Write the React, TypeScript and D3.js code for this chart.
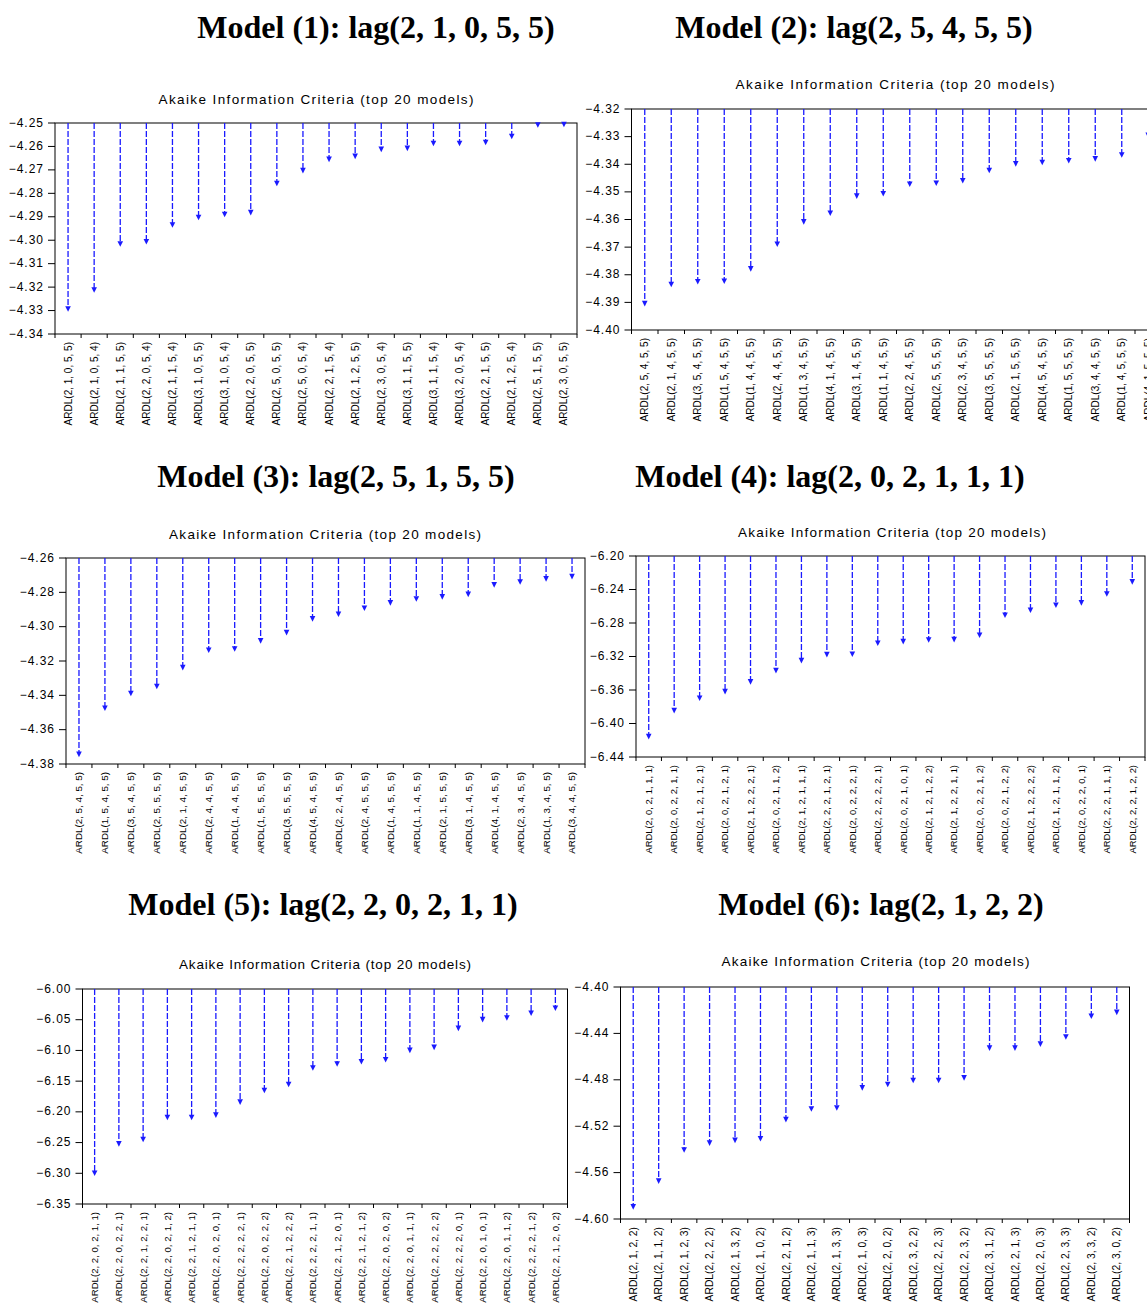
import React from "react";
import * as d3 from "d3";

// ---------------- DATA ----------------
const titles = [
  "Model (1): lag(2, 1, 0, 5, 5)",
  "Model (2): lag(2, 5, 4, 5, 5)",
  "Model (3): lag(2, 5, 1, 5, 5)",
  "Model (4): lag(2, 0, 2, 1, 1, 1)",
  "Model (5): lag(2, 2, 0, 2, 1, 1)",
  "Model (6): lag(2, 1, 2, 2)",
];
const subtitle = "Akaike Information Criteria (top 20 models)";

const labels1 = [
  "ARDL(2, 1, 0, 5, 5)", "ARDL(2, 1, 0, 5, 4)", "ARDL(2, 1, 1, 5, 5)", "ARDL(2, 2, 0, 5, 4)",
  "ARDL(2, 1, 1, 5, 4)", "ARDL(3, 1, 0, 5, 5)", "ARDL(3, 1, 0, 5, 4)", "ARDL(2, 2, 0, 5, 5)",
  "ARDL(2, 5, 0, 5, 5)", "ARDL(2, 5, 0, 5, 4)", "ARDL(2, 2, 1, 5, 4)", "ARDL(2, 1, 2, 5, 5)",
  "ARDL(2, 3, 0, 5, 4)", "ARDL(3, 1, 1, 5, 5)", "ARDL(3, 1, 1, 5, 4)", "ARDL(3, 2, 0, 5, 4)",
  "ARDL(2, 2, 1, 5, 5)", "ARDL(2, 1, 2, 5, 4)", "ARDL(2, 5, 1, 5, 5)", "ARDL(2, 3, 0, 5, 5)",
];
const values1 = [
  -4.3295, -4.3214, -4.3018, -4.3008, -4.2937, -4.2905, -4.2892, -4.2884, -4.276, -4.2705,
  -4.2657, -4.2644, -4.2614, -4.261, -4.2589, -4.2589, -4.2585, -4.2559, -4.251, -4.2508,
];
const yTicks1 = [-4.25, -4.26, -4.27, -4.28, -4.29, -4.3, -4.31, -4.32, -4.33, -4.34];

const labels2 = [
  "ARDL(2, 5, 4, 5, 5)", "ARDL(2, 1, 4, 5, 5)", "ARDL(3, 5, 4, 5, 5)", "ARDL(1, 5, 4, 5, 5)",
  "ARDL(1, 4, 4, 5, 5)", "ARDL(2, 4, 4, 5, 5)", "ARDL(1, 3, 4, 5, 5)", "ARDL(4, 1, 4, 5, 5)",
  "ARDL(3, 1, 4, 5, 5)", "ARDL(1, 1, 4, 5, 5)", "ARDL(2, 2, 4, 5, 5)", "ARDL(2, 5, 5, 5, 5)",
  "ARDL(2, 3, 4, 5, 5)", "ARDL(3, 5, 5, 5, 5)", "ARDL(2, 1, 5, 5, 5)", "ARDL(4, 5, 4, 5, 5)",
  "ARDL(1, 5, 5, 5, 5)", "ARDL(3, 4, 4, 5, 5)", "ARDL(1, 4, 5, 5, 5)", "ARDL(4, 1, 5, 5, 5)",
];
const values2 = [
  -4.3906, -4.3837, -4.3827, -4.3825, -4.378, -4.3691, -4.361, -4.3579, -4.3517, -4.3508,
  -4.3474, -4.347, -4.3461, -4.3424, -4.34, -4.3395, -4.3389, -4.3382, -4.3368, -4.3297,
];
const yTicks2 = [-4.32, -4.33, -4.34, -4.35, -4.36, -4.37, -4.38, -4.39, -4.4];

const labels3 = [
  "ARDL(2, 5, 4, 5, 5)", "ARDL(1, 5, 4, 5, 5)", "ARDL(3, 5, 4, 5, 5)", "ARDL(2, 5, 5, 5, 5)",
  "ARDL(2, 1, 4, 5, 5)", "ARDL(2, 4, 4, 5, 5)", "ARDL(1, 4, 4, 5, 5)", "ARDL(1, 5, 5, 5, 5)",
  "ARDL(3, 5, 5, 5, 5)", "ARDL(4, 5, 4, 5, 5)", "ARDL(2, 2, 4, 5, 5)", "ARDL(2, 4, 5, 5, 5)",
  "ARDL(1, 4, 5, 5, 5)", "ARDL(1, 1, 4, 5, 5)", "ARDL(2, 1, 5, 5, 5)", "ARDL(3, 1, 4, 5, 5)",
  "ARDL(4, 1, 4, 5, 5)", "ARDL(2, 3, 4, 5, 5)", "ARDL(1, 3, 4, 5, 5)", "ARDL(3, 4, 4, 5, 5)",
];
const values3 = [
  -4.3746, -4.3478, -4.3392, -4.3351, -4.3241, -4.314, -4.3132, -4.3085, -4.3037, -4.2957,
  -4.293, -4.2895, -4.2864, -4.2841, -4.2829, -4.2814, -4.2759, -4.2742, -4.2724, -4.2711,
];
const yTicks3 = [-4.26, -4.28, -4.3, -4.32, -4.34, -4.36, -4.38];

const labels4 = [
  "ARDL(2, 0, 2, 1, 1, 1)", "ARDL(2, 0, 2, 2, 1, 1)", "ARDL(2, 1, 2, 1, 2, 1)", "ARDL(2, 0, 2, 1, 2, 1)",
  "ARDL(2, 1, 2, 2, 2, 1)", "ARDL(2, 0, 2, 1, 1, 2)", "ARDL(2, 1, 2, 1, 1, 1)", "ARDL(2, 2, 2, 1, 2, 1)",
  "ARDL(2, 0, 2, 2, 2, 1)", "ARDL(2, 2, 2, 2, 2, 1)", "ARDL(2, 0, 2, 1, 0, 1)", "ARDL(2, 1, 2, 1, 2, 2)",
  "ARDL(2, 1, 2, 2, 1, 1)", "ARDL(2, 0, 2, 2, 1, 2)", "ARDL(2, 0, 2, 1, 2, 2)", "ARDL(2, 1, 2, 2, 2, 2)",
  "ARDL(2, 1, 2, 1, 1, 2)", "ARDL(2, 0, 2, 2, 0, 1)", "ARDL(2, 2, 2, 1, 1, 1)", "ARDL(2, 2, 2, 1, 2, 2)",
];
const values4 = [
  -6.4161, -6.3851, -6.3703, -6.3624, -6.3508, -6.3373, -6.3254, -6.3182, -6.3178, -6.3047,
  -6.3027, -6.3007, -6.3003, -6.2951, -6.2712, -6.2653, -6.2593, -6.2565, -6.2458, -6.2314,
];
const yTicks4 = [-6.2, -6.24, -6.28, -6.32, -6.36, -6.4, -6.44];

const labels5 = [
  "ARDL(2, 2, 0, 2, 1, 1)", "ARDL(2, 2, 0, 2, 2, 1)", "ARDL(2, 2, 1, 2, 2, 1)", "ARDL(2, 2, 0, 2, 1, 2)",
  "ARDL(2, 2, 1, 2, 1, 1)", "ARDL(2, 2, 0, 2, 0, 1)", "ARDL(2, 2, 2, 2, 2, 1)", "ARDL(2, 2, 0, 2, 2, 2)",
  "ARDL(2, 2, 1, 2, 2, 2)", "ARDL(2, 2, 2, 2, 1, 1)", "ARDL(2, 2, 1, 2, 0, 1)", "ARDL(2, 2, 1, 2, 1, 2)",
  "ARDL(2, 2, 0, 2, 0, 2)", "ARDL(2, 2, 0, 1, 1, 1)", "ARDL(2, 2, 2, 2, 2, 2)", "ARDL(2, 2, 2, 2, 0, 1)",
  "ARDL(2, 2, 0, 1, 0, 1)", "ARDL(2, 2, 0, 1, 1, 2)", "ARDL(2, 2, 2, 2, 1, 2)", "ARDL(2, 2, 1, 2, 0, 2)",
];
const values5 = [
  -6.3005, -6.2527, -6.2457, -6.2098, -6.2098, -6.206, -6.1848, -6.1658, -6.156, -6.1293,
  -6.1228, -6.119, -6.1158, -6.1005, -6.0957, -6.0647, -6.0505, -6.0478, -6.0402, -6.0321,
];
const yTicks5 = [-6.0, -6.05, -6.1, -6.15, -6.2, -6.25, -6.3, -6.35];

const labels6 = [
  "ARDL(2, 1, 2, 2)", "ARDL(2, 1, 1, 2)", "ARDL(2, 1, 2, 3)", "ARDL(2, 2, 2, 2)",
  "ARDL(2, 1, 3, 2)", "ARDL(2, 1, 0, 2)", "ARDL(2, 2, 1, 2)", "ARDL(2, 1, 1, 3)",
  "ARDL(2, 1, 3, 3)", "ARDL(2, 1, 0, 3)", "ARDL(2, 2, 0, 2)", "ARDL(2, 3, 2, 2)",
  "ARDL(2, 2, 2, 3)", "ARDL(2, 2, 3, 2)", "ARDL(2, 3, 1, 2)", "ARDL(2, 2, 1, 3)",
  "ARDL(2, 2, 0, 3)", "ARDL(2, 2, 3, 3)", "ARDL(2, 3, 3, 2)", "ARDL(2, 3, 0, 2)",
];
const values6 = [
  -4.5899, -4.5677, -4.5409, -4.5349, -4.5326, -4.5311, -4.5147, -4.5055, -4.5046, -4.4873,
  -4.4844, -4.481, -4.481, -4.4787, -4.453, -4.453, -4.4496, -4.4435, -4.4256, -4.4222,
];
const yTicks6 = [-4.4, -4.44, -4.48, -4.52, -4.56, -4.6];

// ---------------- LAYOUT ----------------
const panels = [
  { labels: labels1, values: values1, ticks: yTicks1, fmt: ".2f", left: 55, right: 577, top: 123, bottom: 334,
    tx: 376, ty: 38, sx: 316, sy: 104, sw: 315, xf: 10 },
  { labels: labels2, values: values2, ticks: yTicks2, fmt: ".2f", left: 631.5, right: 1161.5, top: 109, bottom: 330,
    tx: 854, ty: 38, sx: 895, sy: 89, sw: 319, xf: 10 },
  { labels: labels3, values: values3, ticks: yTicks3, fmt: ".2f", left: 66, right: 585, top: 558, bottom: 764,
    tx: 336, ty: 487, sx: 325, sy: 539, sw: 312, xf: 9.8 },
  { labels: labels4, values: values4, ticks: yTicks4, fmt: ".2f", left: 636, right: 1145, top: 556, bottom: 757,
    tx: 830, ty: 487, sx: 892, sy: 537, sw: 308, xf: 9.4 },
  { labels: labels5, values: values5, ticks: yTicks5, fmt: ".2f", left: 82.5, right: 567.5, top: 989, bottom: 1204,
    tx: 323, ty: 915, sx: 325, sy: 969, sw: 292, xf: 9.6 },
  { labels: labels6, values: values6, ticks: yTicks6, fmt: ".2f", left: 620.5, right: 1129.5, top: 987, bottom: 1219,
    tx: 881, ty: 915, sx: 875.5, sy: 966, sw: 308, xf: 10.3 },
];

const BLUE = "#1a1aff";
const SANS = "Arial, 'Liberation Sans', sans-serif";
const SERIF = "'Times New Roman', 'Liberation Serif', serif";

function Panel({ p, title }: { p: any; title: string }) {
  const y = d3.scaleLinear().domain([p.ticks[0], p.ticks[p.ticks.length - 1]]).range([p.top, p.bottom]);
  const x = d3.scaleBand<string>().domain(p.labels).range([p.left, p.right]).paddingInner(0).paddingOuter(0);
  const bw = x.bandwidth();
  const f = d3.format(p.fmt);
  const y0 = y(p.ticks[0]);
  const bounds = d3.range(p.labels.length + 1).map((i) => p.left + i * bw);
  return (
    <g>
      <text x={p.tx} y={p.ty} textAnchor="middle" fontFamily={SERIF} fontWeight="bold" fontSize={32} fill="#000">
        {title}
      </text>
      <text x={p.sx} y={p.sy} textAnchor="middle" fontFamily={SANS} fontSize={13.5} fill="#000"
        textLength={p.sw} lengthAdjust="spacing">
        {subtitle}
      </text>
      <rect x={p.left} y={p.top} width={p.right - p.left} height={p.bottom - p.top} fill="#fff" stroke="#000" strokeWidth={1} />
      {p.ticks.map((t: number) => (
        <g key={t}>
          <line x1={p.left - 7} x2={p.left} y1={y(t)} y2={y(t)} stroke="#000" strokeWidth={1} />
          <text x={p.left - 11} y={y(t)} dy="0.3em" textAnchor="end" fontFamily={SANS} fontSize={12}
            letterSpacing={1} fill="#000">
            {f(t)}
          </text>
        </g>
      ))}
      {bounds.map((bx: number, i: number) => (
        <line key={i} x1={bx} x2={bx} y1={p.bottom} y2={p.bottom + 4} stroke="#000" strokeWidth={1} />
      ))}
      {p.labels.map((l: string, i: number) => {
        const cx = (x(l) as number) + bw / 2;
        const vy = y(p.values[i]);
        return (
          <g key={l + i}>
            <line x1={cx} x2={cx} y1={y0} y2={vy - 2} stroke={BLUE} strokeWidth={1.3} strokeDasharray="6,2" />
            <path d={`M${cx - 2.8},${vy - 3.2} L${cx + 2.8},${vy - 3.2} L${cx},${vy + 2.4} Z`} fill={BLUE} />
            <text transform={`translate(${cx},${p.bottom + 8}) rotate(-90)`} dy="0.35em" textAnchor="end"
              fontFamily={SANS} fontSize={p.xf} fill="#000">
              {l}
            </text>
          </g>
        );
      })}
    </g>
  );
}

export default function App() {
  return (
    <>
      <style>{`body{margin:0;overflow:hidden}`}</style>
      <svg width={1147} height={1306} style={{ display: "block", background: "#fff" }}>
        <rect x={0} y={0} width={1147} height={1306} fill="#fff" />
        {panels.map((p, i) => (
          <Panel key={i} p={p} title={titles[i]} />
        ))}
      </svg>
    </>
  );
}
